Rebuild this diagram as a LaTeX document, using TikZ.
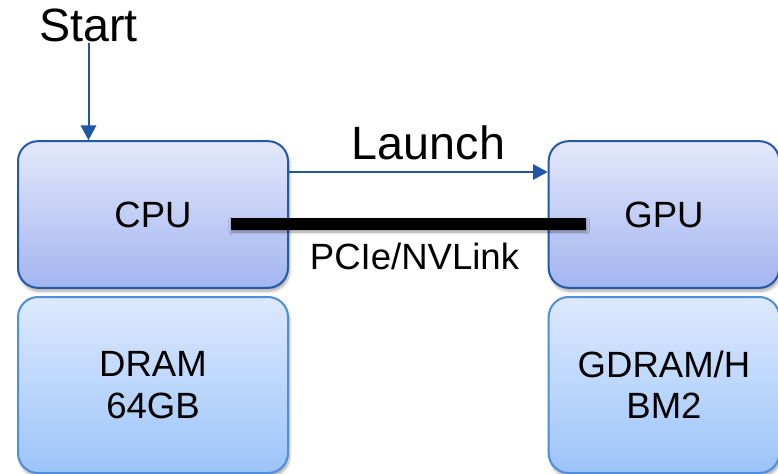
\documentclass[tikz,border=0pt]{standalone}
\usepackage{fontspec}
\setmainfont{Liberation Sans}
\usetikzlibrary{arrows.meta,shadows.blur}

\definecolor{linkblue}{HTML}{1F56A8}
\definecolor{procedge}{HTML}{2358AA}
\definecolor{proctop}{HTML}{E3E8FB}
\definecolor{procbot}{HTML}{A3B5F0}
\definecolor{memedge}{HTML}{4F8EDC}
\definecolor{memtop}{HTML}{DDE9FD}
\definecolor{membot}{HTML}{9CC4FA}

\newcommand*{\bigtext}{\fontsize{35}{40}\selectfont}
\newcommand*{\boxtext}{\fontsize{27.4}{31}\selectfont}

\begin{document}
\begin{tikzpicture}
[
	x=0.75pt, y=-0.75pt,
	unit/.style={rectangle,rounded corners=15pt,line width=1.5pt,
		align=center,inner sep=0pt,font=\boxtext,
		blur shadow={shadow xshift=1pt,shadow yshift=-2.5pt,shadow blur steps=6,shadow opacity=35}},
	proc/.style={unit,draw=procedge,top color=proctop,bottom color=procbot,minimum height=110pt},
	mem/.style={unit,draw=memedge,top color=memtop,bottom color=membot,minimum height=132pt},
	flow/.style={-{Triangle[length=11pt,width=11.5pt]},linkblue,line width=1.5pt}
]
	\useasboundingbox (0,0) rectangle (778,474);

	% host side
	\node[proc,minimum width=202.5pt] (cpu) at (153,214.5) {CPU};
	\node[mem,minimum width=202.5pt] (dram) at (153,385) {DRAM\\64GB};

	% device side
	\node[proc,minimum width=173pt] (gpu) at (664,214.5) {GPU};
	\node[mem,minimum width=173pt] (gdram) at (664,385) {GDRAM/H\\BM2};

	% start
	\node[font=\bigtext,inner sep=0pt,anchor=base] (start) at (88.5,42) {Start};
	\draw[flow] (start.south) -- (start.south |- cpu.north);

	% launch
	\node[font=\bigtext,inner sep=0pt,anchor=base] (launch) at (428.5,160) {Launch};
	\draw[flow] (cpu.east |- 0,172) -- (gpu.west |- 0,172);

	% interconnect
	\coordinate (pcie-a) at (231,224);
	\coordinate (pcie-b) at (586,224);
	\fill[black,blur shadow={shadow xshift=0.5pt,shadow yshift=-1.5pt,shadow blur steps=4,shadow opacity=40}]
		([yshift=4.5pt]pcie-a) rectangle ([yshift=-4.5pt]pcie-b);
	\node[font=\boxtext,inner sep=0pt,anchor=base] (pcie) at (414.5,269) {PCIe/NVLink};

\end{tikzpicture}
\end{document}
